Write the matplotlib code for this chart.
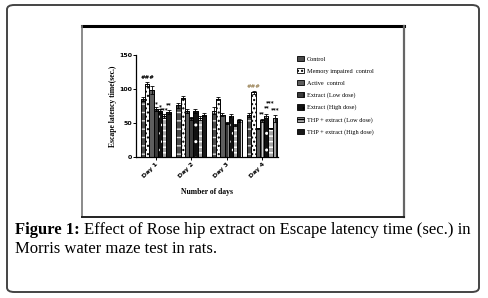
import matplotlib
matplotlib.use("Agg")
import matplotlib.pyplot as plt
import numpy as np
from matplotlib.patches import FancyBboxPatch, Patch
from matplotlib.lines import Line2D

days = ["Day 1", "Day 2", "Day 3", "Day 4"]
groups = ["Control", "Memory impaired  control", "Active  control", "Extract (Low dose)",
          "Extract (High dose)", "THP + extract (Low dose)", "THP + extract (High dose)"]
control = [85, 76, 68, 62]
memory_impaired = [108, 87, 86, 95]
active_control = [99, 67, 62, 42]
extract_low = [71, 57, 50, 54]
extract_high = [67, 68, 61, 60]
thp_low = [60, 57, 47, 42]
thp_high = [66, 62, 54, 57]
errors = [
    [3, 4, 5, 3],
    [3, 2, 2, 2],
    [6, 3, 2, 1],
    [3, 2, 2, 2],
    [3, 3, 2, 3],
    [3, 3, 2, 1],
    [3, 2, 2, 5],
]
# significance labels: (day index, group index, text, extra height, colour)
annotations = [
    (0, 1, "###", 2, "black"), (0, 3, "*", 1, "black"), (0, 4, "*", 1, "black"),
    (0, 5, "***", 3, "black"), (0, 6, "**", 4, "black"),
    (3, 1, "###", 3, "#a08a60"), (3, 3, "**", 4, "black"), (3, 4, "**", 6, "black"),
    (3, 5, "***", 33, "black"), (3, 6, "***", 4, "black"),
]
series = [control, memory_impaired, active_control, extract_low, extract_high, thp_low, thp_high]

styles = [
    dict(face="#4a4a4a", hatch="--", hc="#dddddd"),
    dict(face="white", hatch="....", hc="black"),
    dict(face="#5e5e5e", hatch=None, hc=None),
    dict(face="#3a3a3a", hatch="||", hc="#cccccc"),
    dict(face="#111111", hatch="..", hc="white"),
    dict(face="#a8a8a8", hatch="---", hc="white"),
    dict(face="#1a1a1a", hatch="|", hc="#dddddd"),
]

fig = plt.figure(figsize=(4.88, 2.98), dpi=100)
W, H = 488, 298

def fx(x): return x / W
def fy(y): return 1 - y / H

# outer rounded box
box = FancyBboxPatch((fx(7), fy(292)), fx(479) - fx(7), fy(5) - fy(292),
                     boxstyle="round,pad=0,rounding_size=0.015", transform=fig.transFigure,
                     fill=False, edgecolor="#444444", linewidth=1.4)
fig.patches.append(box)
# inner frame
fig.lines.append(Line2D([fx(82), fx(404)], [fy(26), fy(26)], transform=fig.transFigure, color="black", lw=2.2))
fig.lines.append(Line2D([fx(82), fx(82)], [fy(26), fy(217)], transform=fig.transFigure, color="#777777", lw=1.2))
fig.lines.append(Line2D([fx(404), fx(404)], [fy(26), fy(217)], transform=fig.transFigure, color="#666666", lw=1.6))
fig.lines.append(Line2D([fx(82), fx(404)], [fy(217), fy(217)], transform=fig.transFigure, color="#222222", lw=1.4))

ax = fig.add_axes([fx(136), fy(157), fx(278) - fx(136), fy(55) - fy(157)])
x = np.arange(len(days))
width = 0.12
for i, (vals, st) in enumerate(zip(series, styles)):
    pos = x + (i - 3) * width
    ax.bar(pos, vals, width, color=st["face"], edgecolor="black", linewidth=0.6, zorder=2)
    if st["hatch"]:
        ax.bar(pos, vals, width, fill=False, edgecolor=st["hc"], hatch=st["hatch"], linewidth=0, zorder=3)
    ax.bar(pos, vals, width, fill=False, edgecolor="black", linewidth=0.6, zorder=4)
    ax.errorbar(pos, vals, yerr=errors[i], fmt="none", ecolor="black", elinewidth=0.6,
                capsize=1.2, capthick=0.6, zorder=5)

for d, g, txt, extra, col in annotations:
    xp = x[d] + (g - 3) * width
    yv = series[g][d] + errors[g][d] + extra
    ax.text(xp, yv, txt, ha="center", va="bottom", fontsize=4, color=col, fontweight="bold")

ax.set_ylim(0, 150)
ax.set_xlim(-0.56, 3.45)
ax.set_yticks([0, 50, 100, 150])
ax.set_yticklabels(["0", "50", "100", "150"], fontsize=4.5, fontweight="bold")
ax.set_xticks(x)
ax.set_xticklabels(days, fontsize=4.5, fontweight="bold", rotation=45, ha="right", rotation_mode="anchor")
for s in ["top", "right"]:
    ax.spines[s].set_visible(False)
for s in ["left", "bottom"]:
    ax.spines[s].set_linewidth(0.9)
ax.tick_params(axis="both", length=2, width=0.7, pad=1)
ax.set_ylabel("Escape latency time(sec.)", fontsize=5.5, fontweight="bold", family="Liberation Serif", labelpad=1)
ax.set_xlabel("Number of days", fontsize=5.5, fontweight="bold", family="Liberation Serif", labelpad=7)

# legend
leg_handles = [Patch(facecolor=st["face"], edgecolor="black", hatch=st["hatch"], linewidth=0.6)
               for st in styles]
fig.legend(leg_handles, groups, loc="upper left", bbox_to_anchor=(fx(297), fy(56)),
           frameon=False, prop=dict(family="Liberation Serif", size=4.5),
           handlelength=1.1, handleheight=0.9, labelspacing=1.0, handletextpad=0.5,
           borderpad=0, borderaxespad=0)

# caption
fig.canvas.draw()
r = fig.canvas.get_renderer()
t1 = fig.text(fx(15), fy(234), "Figure 1:", fontsize=12, fontweight="bold",
              family="Liberation Serif", va="baseline")
bb = t1.get_window_extent(renderer=r)
fig.text(bb.x1 / W + 4 / W, fy(234), "Effect of Rose hip extract on Escape latency time (sec.) in",
         fontsize=12, family="Liberation Serif", va="baseline")
fig.text(fx(15), fy(253), "Morris water maze test in rats.", fontsize=12,
         family="Liberation Serif", va="baseline")

fig.savefig("out.png", dpi=100)
